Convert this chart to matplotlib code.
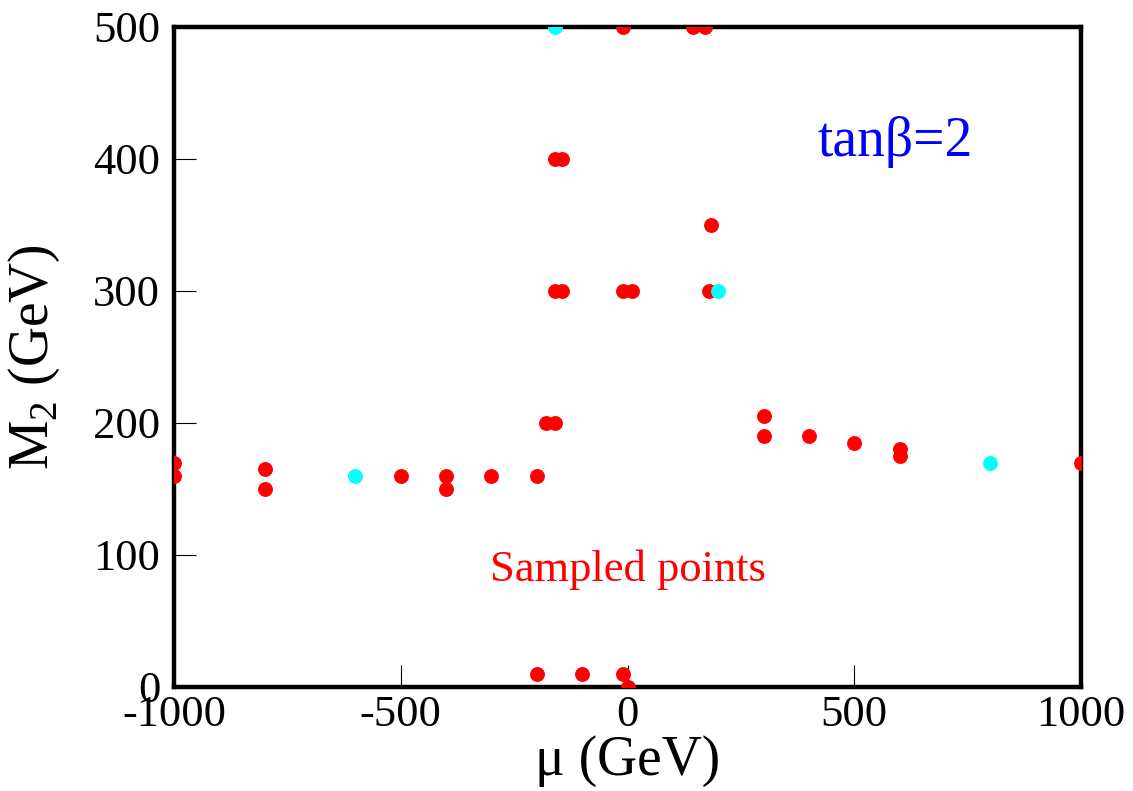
import matplotlib
matplotlib.use("Agg")
import matplotlib.pyplot as plt

plt.rcParams['font.family'] = ['Liberation Serif', 'DejaVu Serif']
plt.rcParams['mathtext.fontset'] = 'custom'
plt.rcParams['mathtext.rm'] = 'Liberation Serif'
plt.rcParams['axes.unicode_minus'] = False

# sampled points (mu, M2) in GeV
red_mu = [-1000, -1000, -800, -800, -500, -400, -400, -300, -200, -180, -160,
          -200, -100, -10, 0, -10, 145, 170, -160, -145, -160, -145, -10, 10,
          185, 180, 300, 300, 400, 500, 600, 600, 1000]
red_m2 = [170, 160, 165, 150, 160, 160, 150, 160, 160, 200, 200,
          10, 10, 10, 0, 500, 500, 500, 400, 400, 300, 300, 300, 300,
          350, 300, 205, 190, 190, 185, 180, 175, 170]

cyan_mu = [-600, -160, 200, 800]
cyan_m2 = [160, 500, 300, 170]

xticks = [-1000, -500, 0, 500, 1000]
yticks = [0, 100, 200, 300, 400, 500]

fig = plt.figure(figsize=(11.33, 7.91), dpi=100)
ax = fig.add_axes([0.1536, 0.1315, 0.8005, 0.8344])

ax.scatter(red_mu, red_m2, s=115, color='#ff0000', linewidths=0, zorder=3)
ax.scatter(cyan_mu, cyan_m2, s=115, color='#00ffff', linewidths=0, zorder=4)

ax.set_xlim(-1000, 1000)
ax.set_ylim(0, 500)
ax.set_xticks(xticks)
ax.set_yticks(yticks)
ax.set_xticklabels([str(t) for t in xticks])
ax.set_yticklabels([str(t) for t in yticks])
ax.tick_params(direction='in', length=16, width=0.8, labelsize=32, pad=6)
ax.tick_params(axis='y', pad=10)
for sp in ax.spines.values():
    sp.set_linewidth(3.2)

ax.set_xlabel('μ (GeV)', fontsize=40, labelpad=0)
ax.set_ylabel(r'M$_2$ (GeV)', fontsize=40, labelpad=22)

ax.text(0.795, 0.825, 'tanβ=2', color='#0000ff', fontsize=40,
        ha='center', va='center', transform=ax.transAxes)
ax.text(0.5, 0.178, 'Sampled points', color='#ff0000', fontsize=32,
        ha='center', va='center', transform=ax.transAxes)

fig.savefig('out.png', dpi=100)
